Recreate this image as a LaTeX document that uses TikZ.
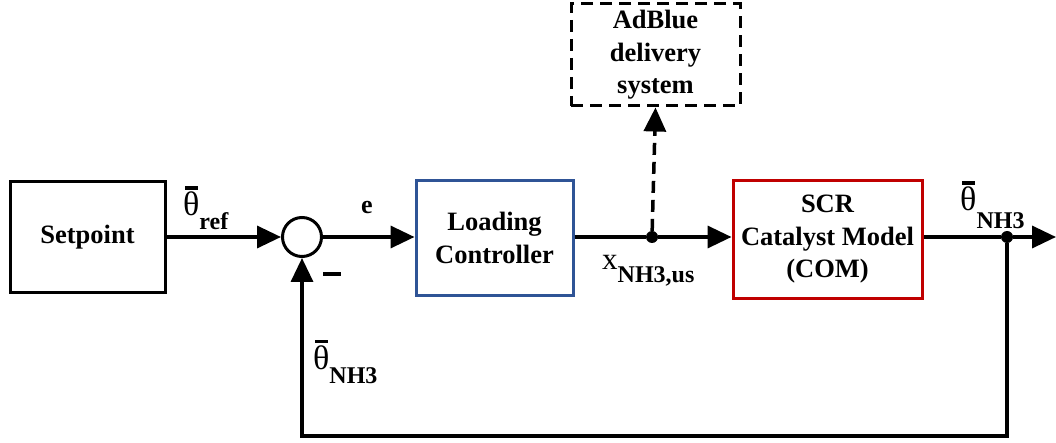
\documentclass[tikz,border=0pt]{standalone}
\usepackage{fontspec}
\setmainfont{Liberation Serif}
\usetikzlibrary{arrows.meta}
\definecolor{boxblue}{RGB}{47,84,150}
\definecolor{boxred}{RGB}{192,0,0}
\newcommand{\thb}{{\fontsize{34}{34}\selectfont\rlap{\hspace{2pt}\rule[26pt]{13pt}{3.5pt}}θ}}
\newcommand{\subl}[2]{\raisebox{-#1}{\fontsize{24}{24}\selectfont\bfseries #2}}
\begin{document}
\begin{tikzpicture}[x=1pt,y=-1pt,
 blk/.style={draw, line width=3pt, align=center, font=\fontsize{26.5}{32.5}\selectfont\bfseries, inner sep=0pt},
 sig/.style={line width=3.5pt, -{Triangle[length=24pt,width=22pt]}},
 ln/.style={line width=3.5pt},
 lbl/.style={inner sep=0pt},
 dot/.style={circle, fill=black, inner sep=0pt, minimum size=12pt},
 dsh/.style={dash pattern=on 12pt off 7pt}]
\useasboundingbox (0,0) rectangle (1056,443);
\node[blk, minimum width=155pt, minimum height=111pt] (sp) at (87.5,237) {Setpoint};
\node[draw, circle, line width=3pt, minimum size=39pt, inner sep=0pt] (sum) at (302,237) {};
\node[blk, draw=boxblue, minimum width=157pt, minimum height=114pt] (lc) at (494.5,238) {Loading\\Controller};
\node[blk, draw=boxred, minimum width=189pt, minimum height=117pt] (scr) at (827.5,239.5) {SCR\\Catalyst Model\\(COM)};
\node[blk, dsh, minimum width=169pt, minimum height=102pt] (ab) at (655.5,55) {\raisebox{-2pt}{AdBlue}\\\raisebox{-2pt}{delivery}\\\raisebox{-2pt}{system}};
\node[dot] (d1) at (652,237) {};
\node[dot] (d2) at (1007,237) {};
\coordinate (outend) at (1056,237);
\coordinate (fb) at (302,436);
\node[lbl, anchor=base west] (lref) at (183,216) {\thb\subl{14pt}{ref}};
\node[lbl, anchor=base west] (lout) at (960,211) {\thb\subl{18pt}{NH3}};
\node[lbl, anchor=base west] (lfb) at (313,369) {\thb\subl{14pt}{NH3}};
\node[lbl, anchor=base west] (lx) at (602,270) {{\fontsize{31}{31}\selectfont x}\subl{13pt}{NH3,us}};
\node[lbl, font=\fontsize{26}{26}\selectfont\bfseries] (le) at (367,208) {e};
\node[lbl] (minus) at (332,274) {\rule{18pt}{4pt}};
\draw[sig] (sp.east |- sum) -- (sum.west);
\draw[sig] (sum.east) -- (sum.east -| lc.west);
\draw[ln] (d1 -| lc.east) -- (d1);
\draw[sig] (d1) -- (d1 -| scr.west);
\draw[sig, dsh] (d1) -- (ab.south);
\draw[ln] (d2 -| scr.east) -- (d2);
\draw[sig] (d2) -- (outend);
\draw[sig, line join=miter] (d2) |- (fb) -- (sum.south);
\end{tikzpicture}
\end{document}
